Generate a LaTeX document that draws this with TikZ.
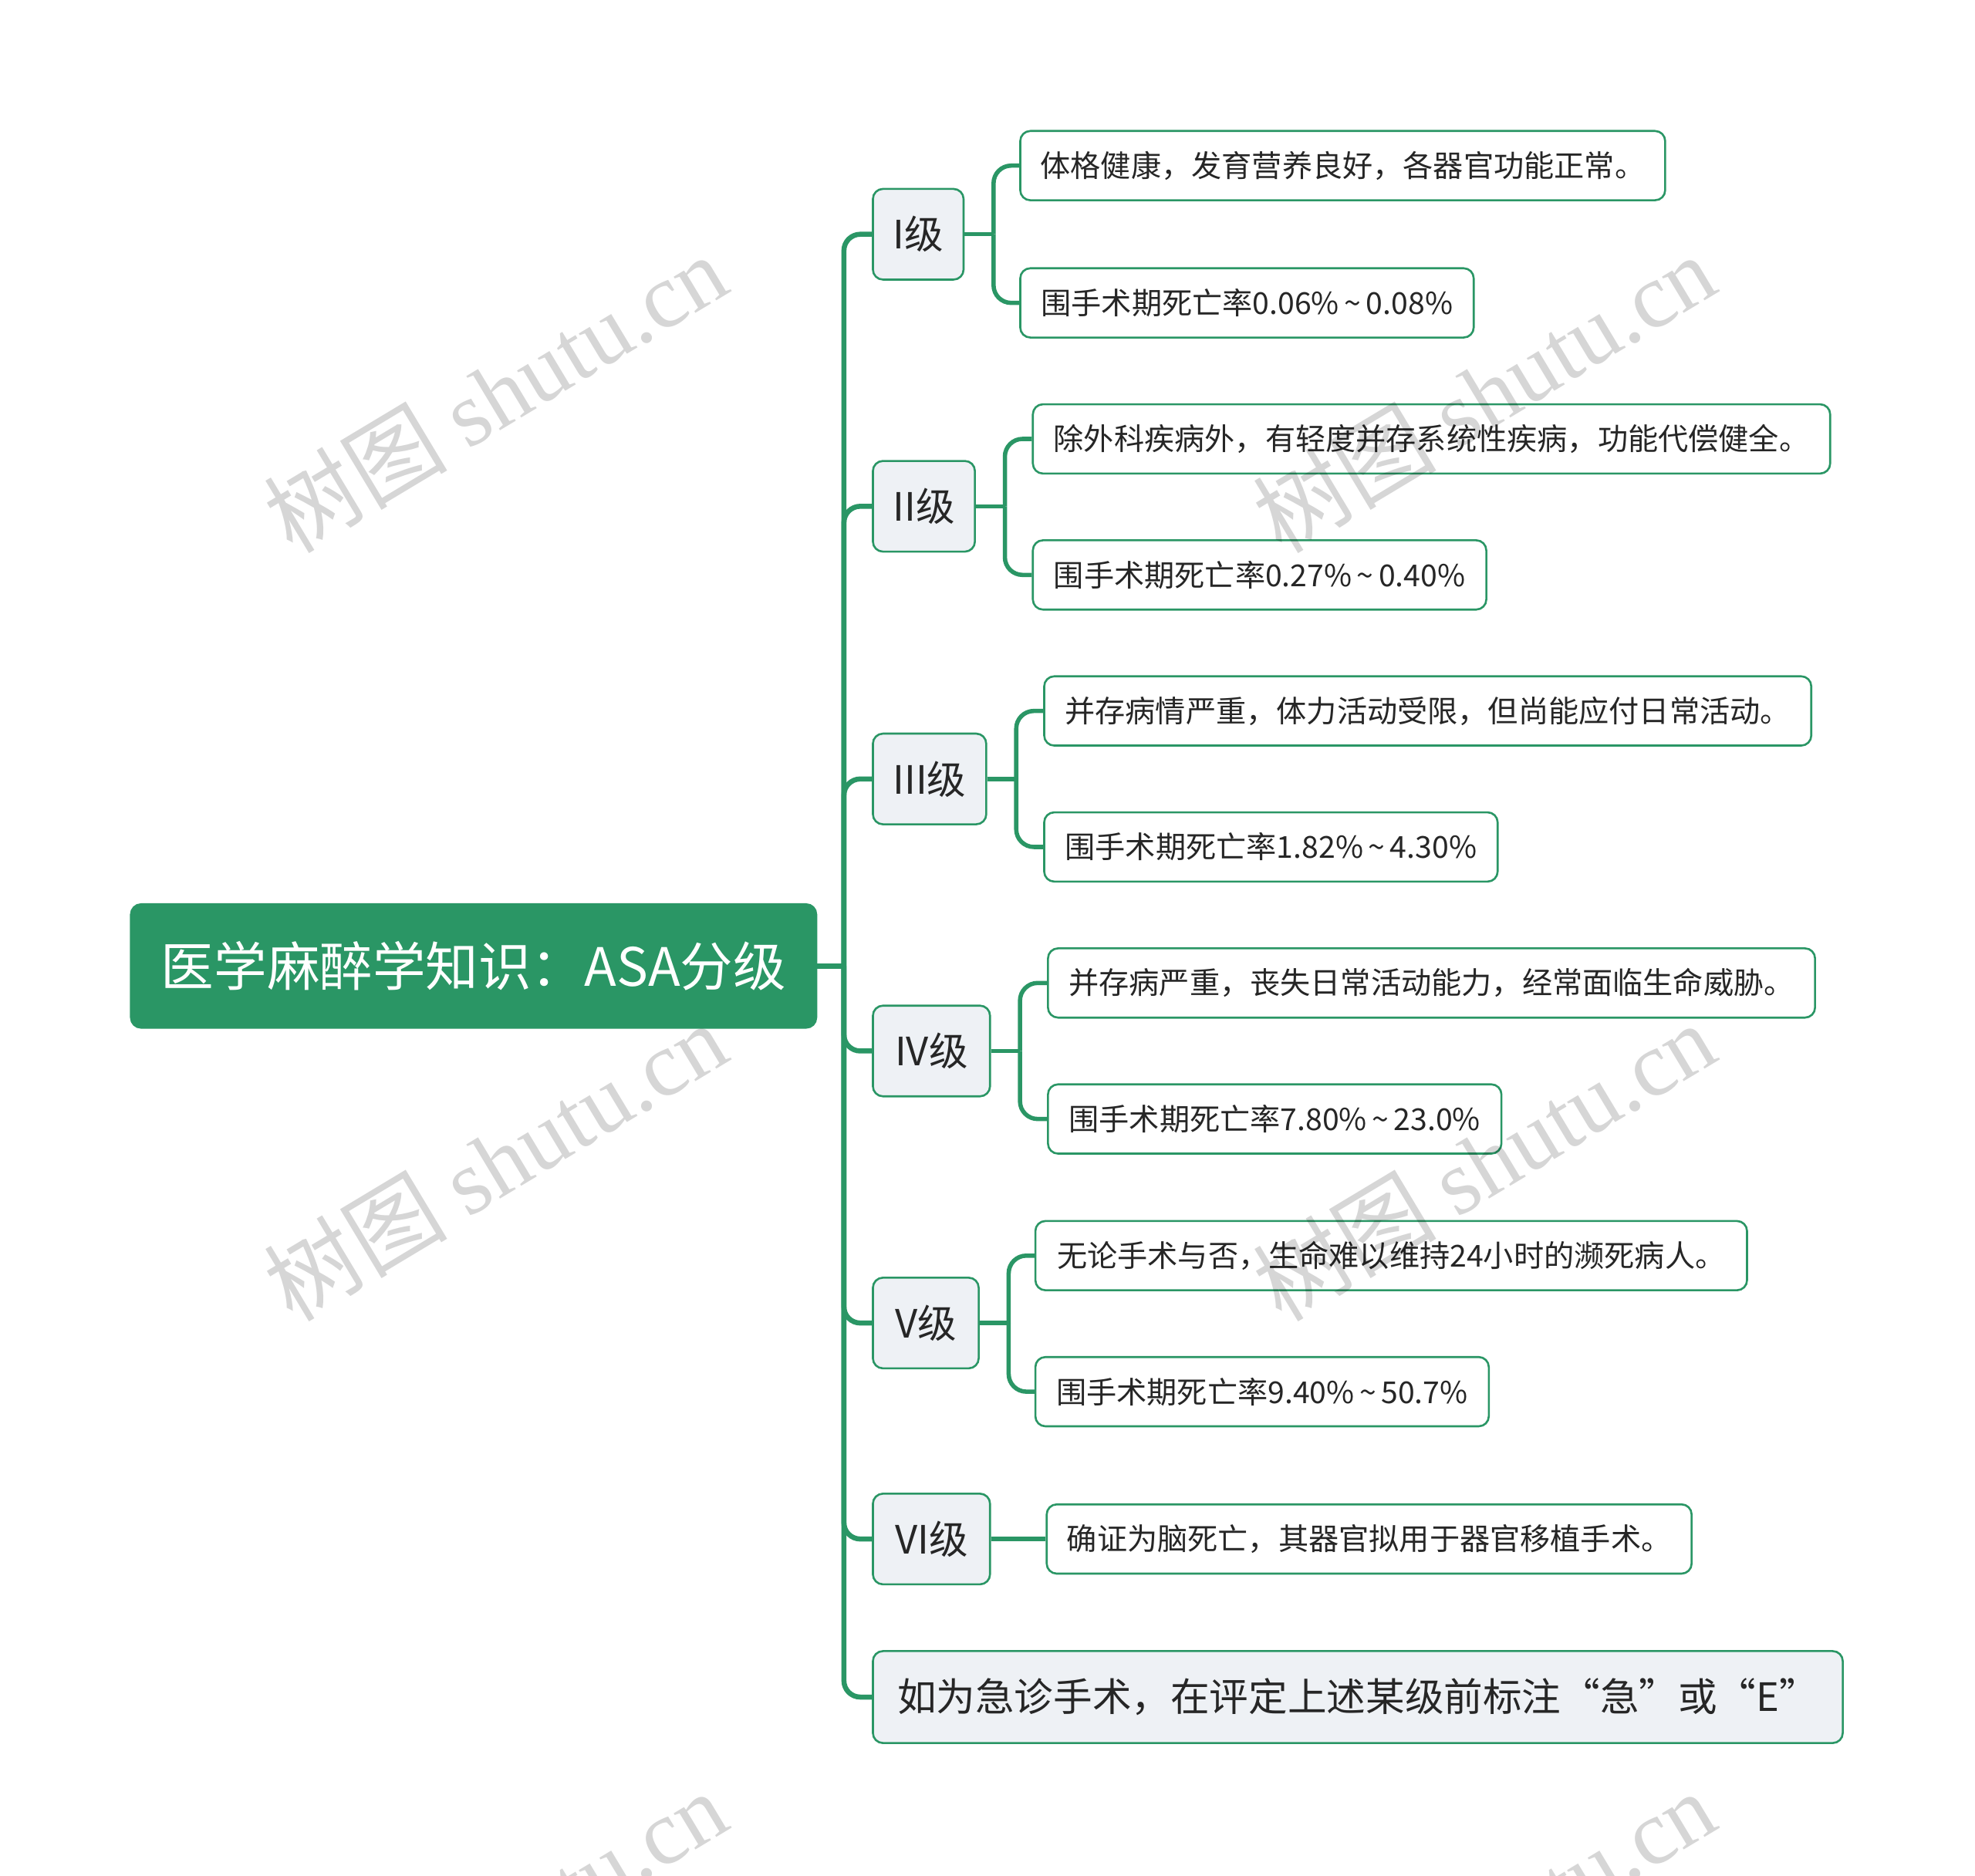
\documentclass[tikz,border=0pt]{standalone}
\usepackage{fontspec}
\setmainfont{Noto Sans CJK SC}
\newfontfamily\wmserif{Liberation Serif}
\definecolor{mgreen}{RGB}{42,150,101}
\definecolor{lvfill}{RGB}{238,241,245}
\definecolor{txt}{RGB}{38,38,38}
\newcommand\rng{\,\textasciitilde\,}
\begin{document}
\begin{tikzpicture}[x=1pt,y=-1pt,
  root/.style={draw=mgreen, fill=mgreen, rounded corners=8pt, text=white, font=\fontsize{42}{50}\selectfont, minimum height=98pt, inner sep=0pt, line width=1.6pt},
  lvone/.style={draw=mgreen, fill=lvfill, rounded corners=8pt, text=txt, font=\fontsize{31}{36}\selectfont, minimum height=72pt, inner sep=0pt, line width=1.6pt},
  lvtwo/.style={draw=mgreen, fill=white, rounded corners=8pt, text=txt, font=\fontsize{24}{28}\selectfont, minimum height=55pt, inner sep=0pt, line width=1.6pt},
  trunk/.style={draw=mgreen, line width=4pt, rounded corners=13pt},
  conn/.style={draw=mgreen, line width=3.4pt, rounded corners=14pt},
  wm/.style={text=black, text opacity=0.16, rotate=31, font=\fontsize{73}{78}\selectfont}
]
\useasboundingbox (0,0) rectangle (1568,1489);
\fill[white] (0,0) rectangle (1568,1489);

% root
\node[root, minimum width=544pt] (root) at (376,767) {医学麻醉学知识：ASA分级};

% level 1
\node[lvone, minimum width=72pt] (g1) at (729,186) {I级};
\node[lvone, minimum width=81pt] (g2) at (733.5,402) {II级};
\node[lvone, minimum width=90pt] (g3) at (738,618.5) {III级};
\node[lvone, minimum width=93pt] (g4) at (739.5,834.5) {IV级};
\node[lvone, minimum width=84pt] (g5) at (735,1050.5) {V级};
\node[lvone, minimum width=93pt] (g6) at (739.5,1222) {VI级};
\node[lvone, minimum width=770pt, minimum height=73pt] (g7) at (1078,1347.5) {如为急诊手术，在评定上述某级前标注“急”或“E”};

% level 2
\node[lvtwo, minimum width=512pt] (a1) at (1066,131.5) {体格健康，发育营养良好，各器官功能正常。};
\node[lvtwo, minimum width=360pt] (b1) at (990,240.5) {围手术期死亡率0.06\%\rng0.08\%};
\node[lvtwo, minimum width=633pt] (a2) at (1136.5,348.5) {除外科疾病外，有轻度并存系统性疾病，功能代偿健全。};
\node[lvtwo, minimum width=360pt] (b2) at (1000,456.5) {围手术期死亡率0.27\%\rng0.40\%};
\node[lvtwo, minimum width=609pt] (a3) at (1133.5,564.5) {并存病情严重，体力活动受限，但尚能应付日常活动。};
\node[lvtwo, minimum width=360pt] (b3) at (1009,672.5) {围手术期死亡率1.82\%\rng4.30\%};
\node[lvtwo, minimum width=609pt] (a4) at (1136.5,780.5) {并存病严重，丧失日常活动能力，经常面临生命威胁。};
\node[lvtwo, minimum width=360pt] (b4) at (1012,888.5) {围手术期死亡率7.80\%\rng23.0\%};
\node[lvtwo, minimum width=565pt] (a5) at (1104.5,997) {无论手术与否，生命难以维持24小时的濒死病人。};
\node[lvtwo, minimum width=360pt] (b5) at (1002,1105) {围手术期死亡率9.40\%\rng50.7\%};
\node[lvtwo, minimum width=512pt] (a6) at (1087,1222) {确证为脑死亡，其器官拟用于器官移植手术。};

% trunk connectors
\draw[trunk] (root.east) -- (670,767) coordinate (tr);
\foreach \n in {g1,g2,g3,g4,g5,g6,g7} {
  \draw[trunk] (tr) |- (\n.west);
}

% level 2 connectors
\foreach \p/\c/\d in {g1/a1/b1, g2/a2/b2, g3/a3/b3, g4/a4/b4, g5/a5/b5} {
  \draw[conn] (\p.east) -- ++(23,0) coordinate (br\p);
  \draw[conn] (br\p) |- (\c.west);
  \draw[conn] (br\p) |- (\d.west);
}
\draw[conn] (g6.east) -- (a6.west);

% watermarks
\begin{scope}
\clip (0,0) rectangle (1568,1489);
\foreach \x/\y [count=\i] in {393/312, 1178/312, 393/922, 1178/922, 393/1532, 1178/1532} {
  \node[wm] (wm\i) at (\x,\y) {树图 {\wmserif shutu.cn}};
}
\end{scope}
\end{tikzpicture}
\end{document}
